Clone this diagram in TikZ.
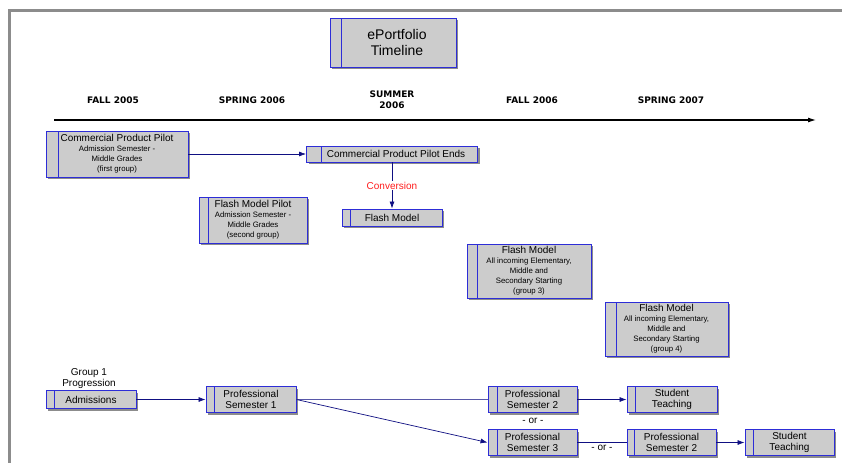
\documentclass[tikz,border=0pt]{standalone}
\usepackage{fontspec}
\setmainfont{Liberation Sans}
\newfontfamily\perfont{DejaVu Sans}
\usetikzlibrary{arrows.meta,shadows}
\definecolor{boxfill}{RGB}{204,204,204}
\definecolor{boxblue}{RGB}{45,45,215}
\definecolor{lineblue}{RGB}{15,15,130}
\definecolor{framegray}{RGB}{140,140,140}
\definecolor{convred}{RGB}{255,30,30}
\newcommand\mainf{\fontsize{10}{11}\selectfont}
\newcommand\smallf{\fontsize{7.8}{10}\selectfont}
\newcommand\titlef{\fontsize{14}{16}\selectfont}
\newcommand\periodf{\perfont\fontsize{9}{11}\selectfont\bfseries}
\tikzset{
  divx/.store in=\divx, divx=8,
  tbox/.style={draw=boxblue, line width=0.9pt, fill=boxfill, inner sep=0pt, align=center,
    font=\mainf,
    drop shadow={shadow xshift=2.2pt, shadow yshift=-2.2pt, fill=black, opacity=0.45},
    path picture={\draw[boxblue, line width=0.9pt]
      ([xshift=\divx pt]path picture bounding box.north west) --
      ([xshift=\divx pt]path picture bounding box.south west);}},
  period/.style={font=\periodf, align=center, inner sep=0pt},
  plain/.style={font=\mainf, align=center, inner sep=0pt, text=black},
  conn/.style={lineblue, line width=0.7pt},
  arr/.style={conn, -{Latex[length=7pt,width=5pt]}},
  tline/.style={black, line width=1.1pt, -{Latex[length=8pt,width=5pt]}},
}
\begin{document}
\begin{tikzpicture}[x=1pt,y=-1pt]
\useasboundingbox (0,0) rectangle (842,463);
\fill[white] (0,0) rectangle (842,463);
% frame
\draw[framegray, line width=3.5pt] (842,10.5) -- (9.5,10.5) -- (9.5,463);

% title
\node[tbox, divx=11, font=\titlef, minimum width=126pt, minimum height=49pt] (title) at (393,42.5) {\hspace*{8pt}ePortfolio\\\hspace*{8pt}Timeline};

% periods
\node[period] (p1) at (113,100) {FALL 2005};
\node[period] (p2) at (252,100) {SPRING 2006};
\node[period] (p3) at (392,99.5) {SUMMER\\2006};
\node[period] (p4) at (532,100) {FALL 2006};
\node[period] (p5) at (671,100) {SPRING 2007};
\coordinate (tl0) at (54,120);
\coordinate (tl1) at (816,120);
\draw[tline] (tl0) -- (tl1);

% upper boxes
\node[tbox, divx=12, font=\smallf, minimum width=142pt, minimum height=46pt] (cpp) at (117,154)
  {{\mainf Commercial Product Pilot}\\Admission Semester -\\Middle Grades\\(first group)};
\node[tbox, divx=15, minimum width=171pt, minimum height=16pt] (cppe) at (392,154)
  {\hspace*{8pt}Commercial Product Pilot Ends};
\node[tbox, divx=8, minimum width=100pt, minimum height=17pt] (fm) at (392,217.5) {Flash Model};
\node[tbox, divx=9, font=\smallf, minimum width=108pt, minimum height=46pt] (fmp) at (253,220)
  {{\mainf Flash Model Pilot}\\Admission Semester -\\Middle Grades\\(second group)};
\node[tbox, divx=10, font=\smallf, minimum width=124pt, minimum height=54pt] (g3) at (529,271)
  {{\mainf Flash Model}\\All incoming Elementary,\\Middle and\\Secondary Starting\\(group 3)};
\node[tbox, divx=11, font=\smallf, minimum width=123pt, minimum height=54pt] (g4) at (666.5,329)
  {{\mainf Flash Model}\\All incoming Elementary,\\Middle and\\Secondary Starting\\(group 4)};

\draw[arr] (cpp.east) -- (cppe.west);
\draw[arr] (cppe.south) -- node[plain, fill=white, text=convred, inner sep=1pt] (conv) {Conversion} (fm.north);

% progression
\node[plain] (g1) at (89,378.5) {Group 1\\Progression};
\node[tbox, divx=8, minimum width=90pt, minimum height=18pt] (adm) at (91,399.5) {Admissions};
\node[tbox, divx=8, minimum width=90pt, minimum height=26pt] (ps1) at (251,399.5) {Professional\\Semester 1};
\node[tbox, divx=9, minimum width=89pt, minimum height=26pt] (ps2) at (532.5,399.5) {Professional\\Semester 2};
\node[tbox, divx=8, minimum width=90pt, minimum height=26pt] (st1) at (672,399.5) {Student\\Teaching};
\node[tbox, divx=9, minimum width=89pt, minimum height=26pt] (ps3) at (532.5,442.5) {Professional\\Semester 3};
\node[tbox, divx=7, minimum width=89pt, minimum height=26pt] (ps2b) at (671.5,442.5) {Professional\\Semester 2};
\node[tbox, divx=8, minimum width=89pt, minimum height=26pt] (st2) at (789.5,442.5) {Student\\Teaching};
\node[plain] (or1) at (533,421) {- or -};

\draw[arr] (adm.east) -- (ps1.west);
\draw[conn, lineblue!70] (ps1.east) -- (ps2.west);
\draw[arr] (ps1.east) -- (ps3.west);
\draw[arr] (ps2.east) -- (st1.west);
\draw[conn] (ps3.east) -- node[plain, below=2pt] (or2) {- or -} (ps2b.west);
\draw[arr] (ps2b.east) -- (st2.west);
\end{tikzpicture}
\end{document}
